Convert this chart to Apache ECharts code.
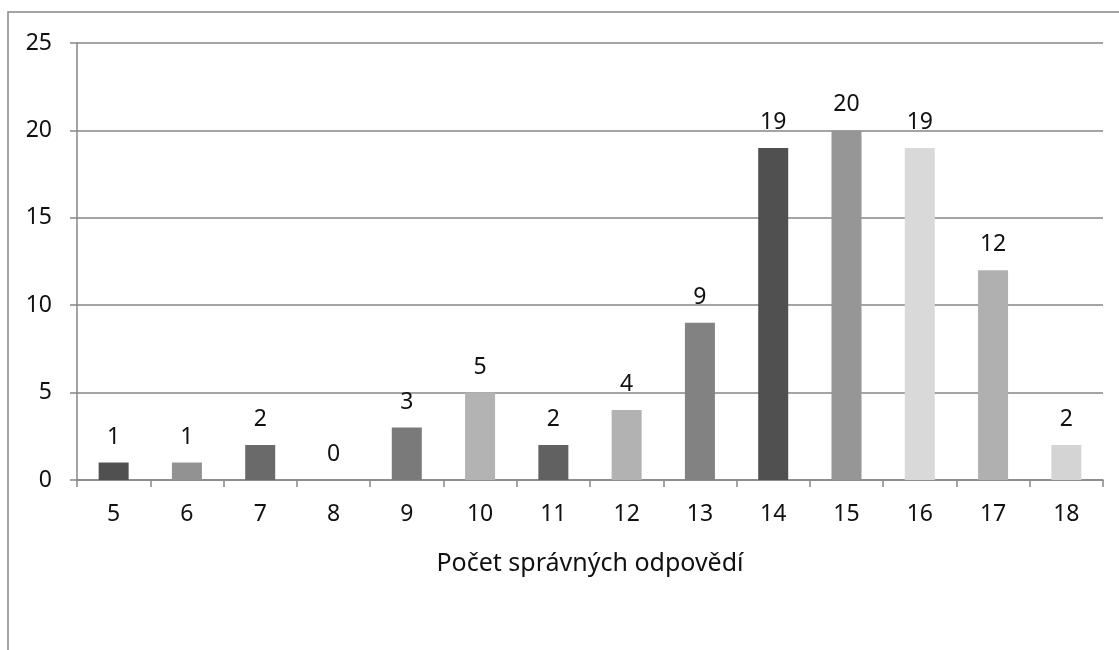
<!DOCTYPE html>
<html>
<head>
<meta charset="utf-8">
<script src="https://cdn.jsdelivr.net/npm/echarts@6/dist/echarts.min.js"></script>
<style>
  html, body { margin: 0; padding: 0; background: #fff; }
  #chart { width: 1119px; height: 650px; }
</style>
</head>
<body>
<div id="chart"></div>
<script>
// data
var categories = ["5", "6", "7", "8", "9", "10", "11", "12", "13", "14", "15", "16", "17", "18"];
var counts = [1, 1, 2, 0, 3, 5, 2, 4, 9, 19, 20, 19, 12, 2];
var barColors = ["#505050", "#929292", "#6a6a6a", "#7a7a7a", "#7a7a7a", "#b3b3b3", "#616161",
  "#b2b2b2", "#828282", "#505050", "#969696", "#d9d9d9", "#b0b0b0", "#d4d4d4"];
var axisTitle = "Počet správných odpovědí";

var font = "Noto Sans";
var chart = echarts.init(document.getElementById("chart"));

chart.setOption({
  animation: false,
  textStyle: { fontFamily: font },
  graphic: [
    {
      type: "rect",
      shape: { x: 8, y: 12, width: 1130, height: 660 },
      style: { fill: "none", stroke: "#868686", lineWidth: 1.5 }
    }
  ],
  grid: { left: 77, top: 43, right: 16, bottom: 170 },
  xAxis: {
    type: "category",
    data: categories,
    name: axisTitle,
    nameLocation: "middle",
    nameGap: 71,
    nameTextStyle: { color: "#111", fontSize: 25, fontFamily: font },
    axisLine: { lineStyle: { color: "#868686", width: 1.5 } },
    axisTick: { show: true, length: 7, lineStyle: { color: "#868686", width: 1.5 } },
    axisLabel: { color: "#111", fontSize: 23, margin: 23, fontFamily: font }
  },
  yAxis: {
    type: "value",
    min: 0,
    max: 25,
    interval: 5,
    axisLine: { show: true, lineStyle: { color: "#868686", width: 1.5 } },
    axisTick: { show: true, length: 7, lineStyle: { color: "#868686", width: 1.5 } },
    splitLine: { lineStyle: { color: "#868686", width: 1.5 } },
    axisLabel: { color: "#111", fontSize: 23, margin: 25, fontFamily: font }
  },
  series: [
    {
      type: "bar",
      barWidth: 30,
      data: counts.map(function (v, i) {
        return { value: v, itemStyle: { color: barColors[i] } };
      }),
      label: {
        show: true,
        position: "top",
        distance: 14,
        color: "#111",
        fontSize: 23,
        fontFamily: font
      }
    }
  ]
});
</script>
</body>
</html>
